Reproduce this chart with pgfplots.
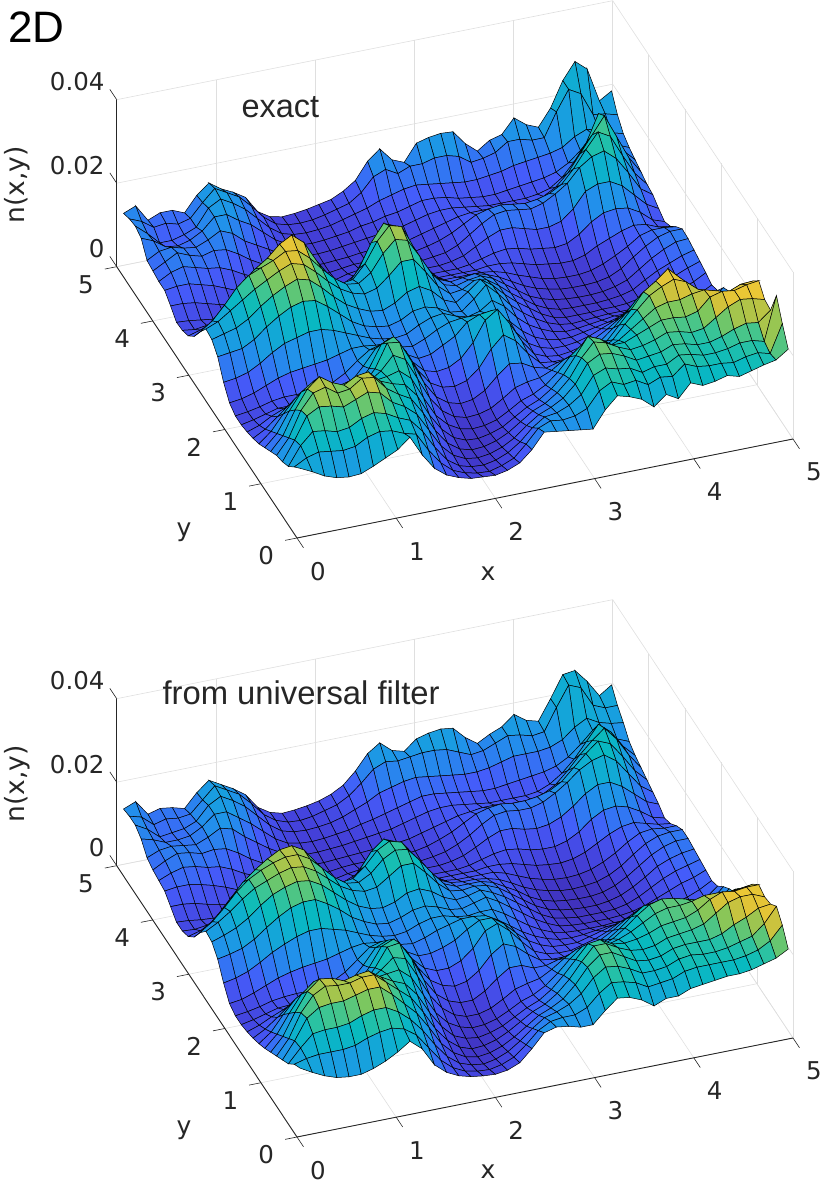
\documentclass[border=0pt]{standalone}
\usepackage{fontspec}
\setmainfont{Liberation Sans}
\newfontfamily\ticksf{DejaVu Sans}
\usepackage{pgfplots}
\pgfplotsset{compat=1.18}

\definecolor{axdark}{rgb}{0.15,0.15,0.15}

\pgfplotsset{colormap={parula2}{
  rgb=(0.24,0.15,0.66) rgb=(0.25,0.20,0.75) rgb=(0.265,0.25,0.85) rgb=(0.27,0.31,0.92) rgb=(0.27,0.36,0.98)
  rgb=(0.19,0.47,0.95) rgb=(0.13,0.57,0.92) rgb=(0.09,0.63,0.87) rgb=(0.06,0.68,0.82) rgb=(0.03,0.73,0.75)
  rgb=(0.21,0.77,0.60) rgb=(0.50,0.78,0.36) rgb=(0.85,0.76,0.22) rgb=(0.99,0.80,0.20) rgb=(0.98,0.95,0.10)
}}

\pgfplotsset{
  panel/.style={
    anchor=south west, clip=false,
    x={(99.2pt,19.8pt)}, y={(-36.06pt,54.26pt)}, z={(0pt,0.835pt)},
    xmin=0, xmax=5, ymin=0, ymax=5, zmin=0, zmax=200,
    xtick={0,1,2,3,4,5}, ytick={0,1,2,3,4,5}, ztick={0,100,200}, zticklabels={0,0.02,0.04},
    axis line style={draw=none},
    tick pos=left,
    tick align=outside, major tick length=12pt,
    tick style={draw=none},
    grid=major, major grid style={gray!25, line width=0.6pt},
    tick label style={font=\ticksf\fontsize{24.5}{26}\selectfont, text=axdark},
    xticklabel style={xshift=10pt, yshift=-9pt},
    yticklabel style={xshift=-8pt, yshift=-2pt},
    zticklabel style={anchor=east, xshift=-2pt, yshift=8pt},
    /pgf/number format/assume math mode=true,
    colormap name=parula2, point meta min=0, point meta max=140,
  },
}

% axis lines and tick marks on the three front edges only
\newcommand{\axisdeco}{%
  \draw[axdark, line width=0.9pt] (axis cs:0,0,0)--(axis cs:5,0,0);
  \draw[axdark, line width=0.9pt] (axis cs:0,0,0)--(axis cs:0,5,0);
  \draw[axdark, line width=0.9pt] (axis cs:0,5,0)--(axis cs:0,5,200);
  \draw[axdark, line width=0.6pt] (axis cs:0,0,0)--(axis cs:0,-0.18,0);
  \draw[axdark, line width=0.6pt] (axis cs:1,0,0)--(axis cs:1,-0.18,0);
  \draw[axdark, line width=0.6pt] (axis cs:2,0,0)--(axis cs:2,-0.18,0);
  \draw[axdark, line width=0.6pt] (axis cs:3,0,0)--(axis cs:3,-0.18,0);
  \draw[axdark, line width=0.6pt] (axis cs:4,0,0)--(axis cs:4,-0.18,0);
  \draw[axdark, line width=0.6pt] (axis cs:5,0,0)--(axis cs:5,-0.18,0);
  \draw[axdark, line width=0.6pt] (axis cs:0,0,0)--(axis cs:-0.12,0,0);
  \draw[axdark, line width=0.6pt] (axis cs:0,1,0)--(axis cs:-0.12,1,0);
  \draw[axdark, line width=0.6pt] (axis cs:0,2,0)--(axis cs:-0.12,2,0);
  \draw[axdark, line width=0.6pt] (axis cs:0,3,0)--(axis cs:-0.12,3,0);
  \draw[axdark, line width=0.6pt] (axis cs:0,4,0)--(axis cs:-0.12,4,0);
  \draw[axdark, line width=0.6pt] (axis cs:0,5,0)--(axis cs:-0.12,5,0);
  \draw[axdark, line width=0.6pt] (axis cs:0,5,0)--(axis cs:0,5.19,0);
  \draw[axdark, line width=0.6pt] (axis cs:0,5,100)--(axis cs:0,5.19,100);
  \draw[axdark, line width=0.6pt] (axis cs:0,5,200)--(axis cs:0,5.19,200);
}

% one row of the surface: y fixed, 41 values of n(x,y) in units of 2e-4
\newcount\rowcnt
\newcommand{\addrow}[2]{%
  \pgfmathsetmacro\yv{0.05+0.1633*\the\rowcnt}%
  \pgfmathsetmacro\kv{1-0.006*\the\rowcnt}%
  \pgfmathsetmacro\capv{300-7.5*\the\rowcnt}%
  \gdef\rowbuf{}%
  \foreach[count=\j from 0] \zv in {#2} {%
    \pgfmathsetmacro\xv{0.05+0.123*\j}%
    \pgfmathsetmacro\mv{min(\zv*\kv,\capv)}%
    \xdef\rowbuf{\rowbuf (\xv,\yv,\zv) [\mv]}%
  }%
  \xdef#1{#1\rowbuf}%
  \global\advance\rowcnt by 1\relax
}
\newcommand{\surfplot}[1]{\addplot3[surf, faceted color=black, line width=0.5pt, point meta=explicit, mesh/rows=31, mesh/cols=41] coordinates {#1};}

% exact
\def\coordstop{}
\rowcnt=0
\addrow\coordstop{79,72,64,59,57,58,64,71,78,90,66,47,36,30,26,25,24,27,33,46,64,62,60,58,56,76,90,86,80,68,80,72,88,82,84,88,84,88,92,95,105}
\addrow\coordstop{70,78,82,80,78,80,88,92,90,84,80,58,40,28,22,19,18,22,28,42,58,64,62,64,70,88,96,90,92,84,90,88,100,94,92,92,90,94,96,92,125}
\addrow\coordstop{60,82,96,94,90,92,100,104,100,92,86,70,48,30,20,16,15,18,24,34,48,58,60,66,76,96,102,98,96,88,92,92,100,98,94,94,96,100,100,96,148}
\addrow\coordstop{55,78,104,112,110,106,112,118,114,100,92,80,58,36,22,15,13,15,20,28,40,50,56,64,78,100,108,106,100,92,94,96,102,100,96,96,100,106,110,108,120}
\addrow\coordstop{52,70,100,118,122,112,114,124,122,106,96,88,68,44,26,16,12,13,17,24,34,44,50,60,74,96,112,108,100,94,96,100,106,104,100,102,112,122,128,126,122}
\addrow\coordstop{46,62,90,112,124,114,108,116,118,104,98,94,78,52,32,19,13,12,15,20,29,38,44,54,68,88,108,102,92,92,98,104,110,110,108,112,126,130,128,132,134}
\addrow\coordstop{40,54,78,98,108,104,96,100,100,94,96,100,88,62,38,24,16,13,14,18,26,35,40,48,60,76,88,84,78,84,94,104,114,118,118,122,124,120,116,122,123}
\addrow\coordstop{34,46,64,80,88,84,76,78,80,82,92,108,100,74,48,30,20,16,17,21,30,40,44,46,52,62,68,66,64,74,90,104,118,126,132,126,114,104,100,106,102}
\addrow\coordstop{30,38,50,62,66,60,54,56,60,68,84,112,110,84,56,36,26,22,24,32,46,58,56,48,44,48,50,50,52,62,78,94,112,122,134,120,100,88,82,86,84}
\addrow\coordstop{27,32,40,46,48,42,38,40,46,56,74,100,106,86,60,42,34,32,36,48,68,82,72,54,40,38,38,40,44,52,64,78,94,104,112,100,82,70,66,70,72}
\addrow\coordstop{25,28,32,36,36,34,32,34,40,50,66,84,92,80,60,46,42,44,52,68,92,102,82,58,40,34,32,34,38,44,52,62,74,82,86,76,62,54,52,60,68}
\addrow\coordstop{25,27,30,34,36,36,36,38,42,50,62,72,76,70,58,50,52,60,68,82,88,90,78,58,42,34,30,30,32,36,42,48,56,60,62,56,48,42,42,50,62}
\addrow\coordstop{30,32,36,42,48,52,54,56,58,62,66,66,64,60,56,54,60,68,74,76,76,76,72,60,46,36,30,27,27,30,33,36,40,42,42,40,36,34,34,40,48}
\addrow\coordstop{44,46,50,58,68,76,80,84,84,80,74,68,62,58,56,58,66,72,74,68,64,68,78,68,52,40,32,26,23,24,26,28,30,30,30,29,29,30,30,36,44}
\addrow\coordstop{64,66,68,76,88,98,106,110,108,98,86,74,66,62,60,64,72,74,70,62,60,72,86,72,56,44,34,26,21,19,20,21,22,22,22,23,26,30,34,40,48}
\addrow\coordstop{74,78,82,90,102,112,120,126,122,110,96,84,76,70,68,74,84,88,80,66,60,70,82,72,58,46,36,26,19,16,16,16,17,17,18,21,28,34,40,46,51}
\addrow\coordstop{76,82,92,102,112,120,128,134,130,118,104,92,84,80,84,96,110,110,92,72,60,62,70,68,58,46,36,26,19,15,14,14,14,15,17,21,30,38,44,50,54}
\addrow\coordstop{62,72,88,106,118,124,130,138,136,124,108,94,84,82,92,112,126,122,100,76,60,56,60,62,56,46,36,26,20,16,14,13,13,14,17,22,32,42,50,56,57}
\addrow\coordstop{46,54,68,84,100,112,122,136,144,132,108,88,74,76,92,116,132,128,100,74,56,50,52,54,50,44,36,28,22,18,15,14,14,15,18,25,36,46,54,58,58}
\addrow\coordstop{36,40,46,54,64,76,88,104,116,104,82,62,54,58,76,104,124,118,88,62,48,42,42,42,42,40,36,30,25,20,17,16,16,18,23,30,38,48,52,52,50}
\addrow\coordstop{32,30,32,34,36,40,48,60,66,56,42,34,32,38,54,78,94,88,62,44,36,34,34,34,34,36,36,34,30,26,24,22,22,26,34,40,46,50,48,42,40}
\addrow\coordstop{31,30,28,26,25,24,24,24,26,24,22,22,22,26,36,50,60,56,42,32,28,28,28,28,30,34,38,40,38,34,32,30,32,40,52,60,62,60,52,40,35}
\addrow\coordstop{40,40,38,34,30,27,24,22,20,18,18,18,18,20,24,32,38,36,30,26,24,24,24,26,30,38,46,52,52,48,44,44,48,60,78,84,84,76,62,48,40}
\addrow\coordstop{48,50,50,46,42,36,30,26,22,20,18,17,17,18,20,24,26,26,24,22,22,22,24,26,32,42,52,60,62,60,58,62,70,80,96,106,110,98,78,56,46}
\addrow\coordstop{48,56,60,56,52,50,44,36,30,24,20,18,17,17,18,20,22,22,22,22,22,23,26,30,36,44,52,56,58,56,54,56,60,68,84,104,122,114,88,64,48}
\addrow\coordstop{50,58,66,60,56,60,58,50,40,32,26,22,19,18,18,19,20,22,23,24,25,26,30,34,38,42,44,44,44,42,42,42,46,54,68,88,108,128,100,72,52}
\addrow\coordstop{52,60,62,58,56,62,70,64,52,44,36,28,22,20,19,20,22,24,26,28,30,32,36,40,42,42,40,38,36,36,36,36,38,42,52,68,88,120,96,70,56}
\addrow\coordstop{68,62,52,50,54,62,76,76,66,58,46,34,26,22,21,22,24,26,30,32,36,38,42,46,46,44,40,38,36,36,38,40,42,44,48,56,68,84,78,66,60}
\addrow\coordstop{72,60,46,46,50,56,76,84,76,66,52,38,28,24,23,24,26,30,34,38,44,48,52,54,52,50,48,46,46,48,50,54,56,58,60,64,74,80,76,70,66}
\addrow\coordstop{70,64,54,56,52,56,72,86,78,70,56,40,29,25,24,25,28,32,36,46,62,68,60,66,66,70,70,66,56,58,62,72,72,68,68,96,120,112,84,82,78}
\addrow\coordstop{66,72,52,58,58,52,70,82,72,65,56,36,27,24,25,27,30,33,40,50,70,82,66,60,80,84,86,85,68,56,66,70,87,76,70,90,120,140,128,87,96}

% from universal filter
\def\coordsbot{}
\rowcnt=0
\addrow\coordsbot{78,70,63,58,56,56,60,66,74,84,72,50,38,31,27,25,24,26,32,46,62,66,64,60,60,74,86,84,78,68,74,74,80,82,84,86,86,88,92,96,104}
\addrow\coordsbot{72,76,78,78,78,80,86,90,92,88,78,60,42,30,23,20,19,22,28,40,54,62,64,64,70,84,94,92,88,80,82,84,90,92,92,92,92,94,98,106,122}
\addrow\coordsbot{62,78,92,94,94,96,102,106,106,98,86,70,50,33,22,17,15,18,24,34,46,56,60,66,76,92,102,100,94,86,86,88,94,96,94,94,96,100,104,116,134}
\addrow\coordsbot{56,76,100,110,112,112,116,120,120,108,94,80,60,38,24,16,13,15,20,28,38,48,54,62,76,94,106,106,98,90,88,90,96,98,98,98,102,110,116,124,126}
\addrow\coordsbot{50,68,96,114,122,120,120,124,124,112,100,88,68,45,28,17,12,13,17,24,33,42,48,58,72,90,106,106,98,92,90,92,98,100,102,106,116,126,130,130,124}
\addrow\coordsbot{44,60,86,108,120,118,112,116,118,108,100,94,78,54,34,20,14,12,15,20,28,36,42,52,66,82,98,100,92,90,92,96,102,104,106,112,122,128,126,128,128}
\addrow\coordsbot{38,52,74,94,106,104,96,98,100,96,98,100,88,64,40,25,17,13,14,18,25,33,38,46,58,72,84,86,80,84,90,98,106,110,110,112,116,116,114,116,118}
\addrow\coordsbot{33,44,62,78,86,84,76,76,78,82,92,104,100,76,50,32,21,16,16,20,28,37,41,44,52,62,70,70,68,74,84,96,106,110,108,104,100,100,100,104,104}
\addrow\coordsbot{29,37,48,60,64,60,54,54,58,68,84,106,108,86,58,38,27,22,22,30,42,52,52,46,46,50,54,54,56,62,72,84,94,96,92,88,84,84,84,86,88}
\addrow\coordsbot{26,31,38,44,46,42,38,40,46,56,74,96,102,86,62,44,35,31,34,44,60,70,64,52,42,40,40,42,46,52,60,70,78,80,76,72,68,68,68,72,76}
\addrow\coordsbot{24,27,31,35,36,34,32,34,40,50,66,84,90,80,62,48,42,42,48,60,78,84,72,56,42,36,34,34,38,42,48,56,62,64,60,56,52,52,54,60,70}
\addrow\coordsbot{24,26,29,33,35,36,36,38,42,50,62,74,78,72,60,52,52,56,62,72,80,80,70,56,44,36,31,30,30,34,38,42,46,46,44,42,40,40,42,48,62}
\addrow\coordsbot{28,30,35,41,47,51,54,56,58,62,66,68,66,62,58,56,60,66,70,74,74,72,64,54,44,36,30,26,25,26,28,30,31,31,30,30,30,32,34,40,52}
\addrow\coordsbot{42,45,50,58,67,74,80,84,84,80,76,70,64,60,58,60,66,70,70,66,64,66,66,58,48,38,30,24,21,20,20,20,21,21,21,23,26,30,34,40,48}
\addrow\coordsbot{60,63,67,75,86,96,104,108,108,100,90,78,70,64,62,66,72,74,70,64,62,66,70,62,52,42,32,24,18,16,15,15,15,16,18,22,28,34,40,44,50}
\addrow\coordsbot{70,75,81,90,102,112,118,122,120,112,100,88,78,72,70,74,82,84,78,68,62,64,68,62,54,44,34,24,17,14,12,12,12,13,16,22,30,38,44,48,52}
\addrow\coordsbot{72,80,90,102,112,118,124,128,126,118,106,94,86,82,84,94,104,104,90,74,62,60,62,60,54,44,34,24,17,13,11,10,10,12,16,23,32,42,48,52,54}
\addrow\coordsbot{60,70,84,100,112,120,126,130,130,122,108,94,84,82,90,104,112,110,94,76,60,54,54,54,50,42,34,24,17,13,11,10,10,12,17,25,35,45,52,56,56}
\addrow\coordsbot{44,52,66,82,98,110,120,128,130,122,104,86,74,76,88,104,112,108,90,70,54,48,46,46,44,40,33,25,19,15,12,11,12,14,19,27,38,48,54,56,56}
\addrow\coordsbot{34,38,46,54,64,76,90,104,110,100,80,62,54,58,72,92,104,98,78,58,46,40,38,38,38,38,34,28,22,18,15,14,15,18,24,32,42,50,52,50,50}
\addrow\coordsbot{30,29,31,34,36,42,50,62,68,58,44,35,32,38,52,70,82,76,58,44,36,32,32,32,32,34,34,32,28,24,22,21,23,28,36,44,50,52,48,44,42}
\addrow\coordsbot{30,29,27,26,25,26,26,28,28,26,24,23,23,27,36,46,54,50,40,32,28,26,26,26,28,32,36,38,36,32,30,30,34,42,54,62,64,60,52,42,38}
\addrow\coordsbot{38,38,36,32,29,26,24,22,20,19,18,18,18,20,25,31,35,33,28,25,23,23,23,25,29,36,44,50,50,46,44,46,52,62,74,82,82,74,62,50,44}
\addrow\coordsbot{46,48,48,45,41,36,30,26,22,20,18,17,17,18,20,23,25,25,23,22,21,21,23,26,32,40,50,58,60,58,58,62,70,80,92,100,104,94,76,58,48}
\addrow\coordsbot{48,54,58,56,52,50,44,36,30,24,20,18,17,17,18,20,21,21,21,21,21,22,25,30,36,44,52,56,58,56,56,58,62,70,84,98,110,104,86,66,52}
\addrow\coordsbot{50,58,64,62,58,60,58,50,40,32,26,22,19,18,18,19,20,21,22,23,24,26,30,34,38,42,44,46,46,44,44,44,48,56,70,86,100,112,96,74,56}
\addrow\coordsbot{54,60,62,60,58,64,72,68,56,46,36,28,22,20,20,21,22,24,26,28,30,34,38,42,44,44,42,40,38,38,38,38,40,46,56,70,88,106,94,74,60}
\addrow\coordsbot{66,62,56,56,58,66,78,78,68,58,46,34,26,23,22,23,25,27,31,34,38,42,46,50,50,48,46,44,42,42,44,46,48,50,54,62,74,88,82,72,66}
\addrow\coordsbot{72,64,52,54,56,62,78,86,78,68,54,40,30,26,25,26,28,32,38,44,52,56,60,62,60,58,56,54,54,56,60,64,64,64,66,72,84,92,84,80,78}
\addrow\coordsbot{72,68,56,60,58,60,74,88,80,72,58,42,32,27,26,28,32,36,44,56,70,76,74,76,78,78,76,70,64,66,72,78,76,72,74,100,124,118,94,88,88}
\addrow\coordsbot{70,76,58,62,60,56,72,84,76,68,58,40,31,27,28,30,33,38,46,60,78,88,76,72,84,88,90,88,74,64,72,78,90,80,76,100,126,128,112,92,102}

\begin{document}
\begin{tikzpicture}
\path[use as bounding box] (0,0) rectangle (830pt,1192pt);

\begin{axis}[panel, at={(116.7pt,654pt)}]
\expandafter\surfplot\expandafter{\coordstop}
\axisdeco
\end{axis}

\begin{axis}[panel, at={(116.7pt,55pt)}]
\expandafter\surfplot\expandafter{\coordsbot}
\axisdeco
\end{axis}

\node[anchor=west, font=\fontsize{44}{46}\selectfont] at (5pt,1165pt) {2D};
\node[anchor=west, font=\fontsize{32.5}{34}\selectfont, text=axdark] at (238pt,1085pt) {exact};
\node[anchor=west, font=\fontsize{32.8}{34}\selectfont, text=axdark] at (159pt,499pt) {from universal filter};
\node[font=\ticksf\fontsize{25}{26}\selectfont, text=axdark] at (488pt,618pt) {x};
\node[font=\ticksf\fontsize{25}{26}\selectfont, text=axdark] at (184pt,660pt) {y};
\node[rotate=90, font=\ticksf\fontsize{26.5}{28}\selectfont, text=axdark] at (17pt,1007pt) {n(x,y)};
\node[font=\ticksf\fontsize{25}{26}\selectfont, text=axdark] at (488pt,20pt) {x};
\node[font=\ticksf\fontsize{25}{26}\selectfont, text=axdark] at (184pt,62pt) {y};
\node[rotate=90, font=\ticksf\fontsize{26.5}{28}\selectfont, text=axdark] at (17pt,408pt) {n(x,y)};
\end{tikzpicture}
\end{document}
